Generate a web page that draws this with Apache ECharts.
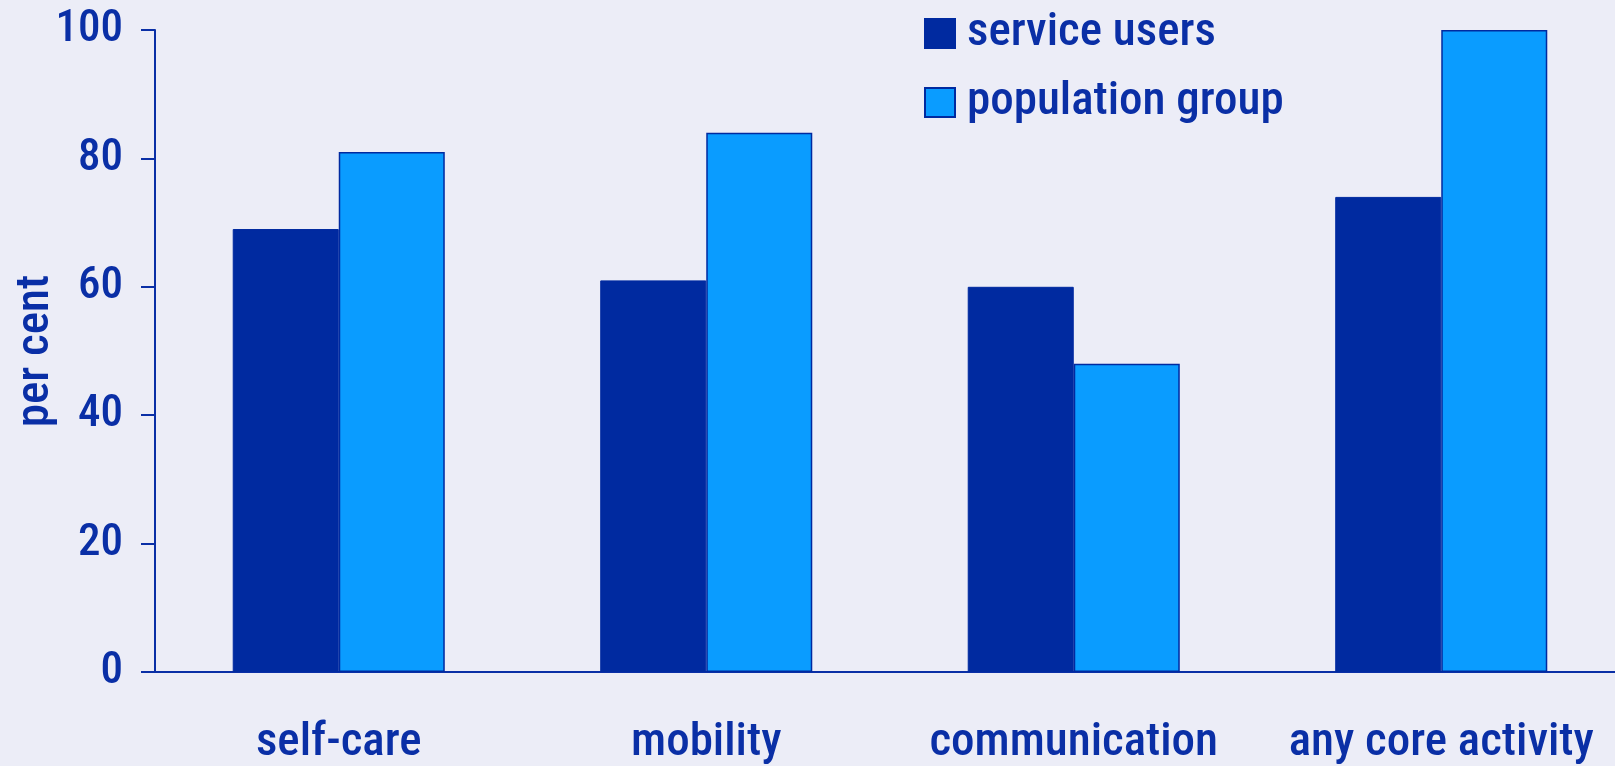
<!DOCTYPE html>
<html>
<head>
<meta charset="utf-8">
<script src="https://cdn.jsdelivr.net/npm/echarts@6/dist/echarts.min.js"></script>
<style>
html,body{margin:0;padding:0;background:#ECEDF7;}
#c{width:1615px;height:766px;}
</style>
</head>
<body>
<div id="c"></div>
<script>
const categories = ["self-care", "mobility", "communication", "any core activity"];
const serviceUsers = [69, 61, 60, 74];
const populationGroup = [81, 84, 48, 100];
const yTicks = [0, 20, 40, 60, 80, 100];

const FONT = '"Roboto Condensed", "DejaVu Sans Condensed", sans-serif';
const WEIGHT = 500;
const TXT = '#0A2FA6';
const DARK = '#002AA0';
const LIGHT = '#0A9CFF';

const chart = echarts.init(document.getElementById('c'), null, {renderer: 'canvas'});
chart.setOption({
  backgroundColor: '#ECEDF7',
  animation: false,
  textStyle: {fontFamily: FONT, color: TXT},
  grid: {left: 155, top: 30, width: 1470, height: 642, containLabel: false, outerBoundsMode: 'none'},
  legend: {
    orient: 'vertical',
    left: 924,
    top: 10,
    padding: 0,
    itemWidth: 30,
    itemHeight: 29,
    itemGap: 22,
    icon: 'rect',
    textStyle: {fontFamily: FONT, fontWeight: WEIGHT, fontSize: 47, color: TXT, padding: [0, 0, 0, 7]},
    data: ['service users', 'population group']
  },
  xAxis: {
    type: 'category',
    data: categories,
    axisLine: {lineStyle: {color: TXT, width: 2}},
    axisTick: {show: false},
    axisLabel: {fontFamily: FONT, fontWeight: WEIGHT, fontSize: 47, color: TXT, margin: 48, interval: 0}
  },
  yAxis: {
    type: 'value',
    min: 0,
    max: 100,
    interval: 20,
    name: 'per cent',
    nameLocation: 'middle',
    nameGap: 95,
    nameRotate: 90,
    nameMoveOverlap: false,
    nameTextStyle: {fontFamily: FONT, fontWeight: WEIGHT, fontSize: 47, color: TXT},
    axisLine: {show: true, lineStyle: {color: TXT, width: 2}},
    axisTick: {show: true, inside: false, length: 14, lineStyle: {color: TXT, width: 2}},
    splitLine: {show: false},
    axisLabel: {
      fontFamily: FONT, fontWeight: WEIGHT, fontSize: 45, color: TXT, margin: 32,
      formatter: v => yTicks.includes(v) ? String(v) : ''
    }
  },
  series: [
    {
      name: 'service users',
      type: 'bar',
      data: serviceUsers,
      barGap: '0%',
      barCategoryGap: '42.3%',
      itemStyle: {color: DARK, borderColor: DARK, borderWidth: 1}
    },
    {
      name: 'population group',
      type: 'bar',
      data: populationGroup,
      itemStyle: {color: LIGHT, borderColor: DARK, borderWidth: 1.5}
    }
  ]
});
</script>
</body>
</html>
